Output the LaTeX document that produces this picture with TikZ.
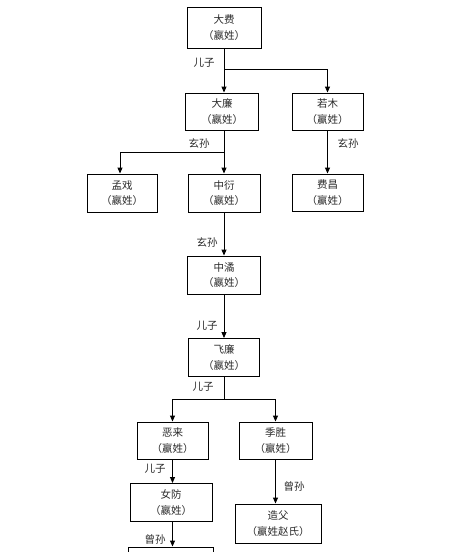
\documentclass[tikz,border=0pt]{standalone}
\usepackage{fontspec}
\newfontfamily\cjk{Noto Sans CJK SC}
\usetikzlibrary{arrows.meta}
\definecolor{txt}{HTML}{2A2A2A}
\begin{document}
\begin{tikzpicture}[x=1pt,y=-1pt,
  box/.style={draw=black, line width=0.9pt, align=center, inner sep=0pt,
    minimum height=37pt, text=txt, font=\cjk\fontsize{10.5}{15.5}\selectfont},
  conn/.style={draw=black, line width=0.9pt, -{Triangle[length=6pt,width=5pt]}},
  lbl/.style={text=txt, inner sep=0pt, font=\cjk\fontsize{10.5}{12}\selectfont}]
\useasboundingbox[fill=white] (0,0) rectangle (454,552);

% boxes
\node[box, minimum width=74pt, minimum height=41pt] (dafei) at (224,27.5) {大费\\（嬴姓）};
\node[box, minimum width=73pt] (dalian) at (222,111.5) {大廉\\（嬴姓）};
\node[box, minimum width=71pt] (ruomu) at (327.5,111.5) {若木\\（嬴姓）};
\node[box, minimum width=70pt, minimum height=38pt] (mengxi) at (122,193) {孟戏\\（嬴姓）};
\node[box, minimum width=72pt, minimum height=38pt] (zhongyan) at (224,193) {中衍\\（嬴姓）};
\node[box, minimum width=71pt] (feichang) at (327.5,192.5) {费昌\\（嬴姓）};
\node[box, minimum width=73pt, minimum height=38pt] (zhongjue) at (224,275) {中潏\\（嬴姓）};
\node[box, minimum width=71pt, minimum height=38pt] (feilian) at (224,357.5) {飞廉\\（嬴姓）};
\node[box, minimum width=71pt] (elai) at (172.5,440.5) {恶来\\（嬴姓）};
\node[box, minimum width=73pt] (jisheng) at (275.5,440.5) {季胜\\（嬴姓）};
\node[box, minimum width=82pt, minimum height=38pt] (nvfang) at (171,502.5) {女防\\（嬴姓）};
\node[box, minimum width=86pt, minimum height=39pt] (zaofu) at (278,523.5) {造父\\（嬴姓赵氏）};
\node[box, minimum width=85pt, minimum height=40pt] (bottom) at (171,567) {};

% junctions
\coordinate (j1) at (224,69);
\coordinate (j2) at (224,152);
\coordinate (j3) at (224,399);

% connectors
\draw[conn] (dafei.south) -- (dafei.south |- dalian.north);
\draw[conn] (j1) -| (ruomu.north);
\draw[conn] (dalian.south -| zhongyan.north) -- (zhongyan.north);
\draw[conn] (j2) -| ([xshift=-2pt]mengxi.north);
\draw[conn] (ruomu.south) -- (feichang.north);
\draw[conn] (zhongyan.south) -- (zhongjue.north);
\draw[conn] (zhongjue.south) -- (feilian.north);
\draw (feilian.south) -- (j3);
\draw[conn] (j3) -| (elai.north);
\draw[conn] (j3) -| (jisheng.north);
\draw[conn] (elai.south) -- (elai.south |- nvfang.north);
\draw[conn] (jisheng.south) -- (jisheng.south |- zaofu.north);
\draw[conn] (nvfang.south -| elai.south) -- (elai.south |- bottom.north);

% labels
\node[lbl] (l1) at (204,63) {儿子};
\node[lbl] (l2) at (199,143) {玄孙};
\node[lbl] (l3) at (348,143) {玄孙};
\node[lbl] (l4) at (207,242) {玄孙};
\node[lbl] (l5) at (207,326) {儿子};
\node[lbl] (l6) at (203,387) {儿子};
\node[lbl] (l7) at (155,469) {儿子};
\node[lbl] (l8) at (294,486) {曾孙};
\node[lbl] (l9) at (155,539) {曾孙};
\end{tikzpicture}
\end{document}
